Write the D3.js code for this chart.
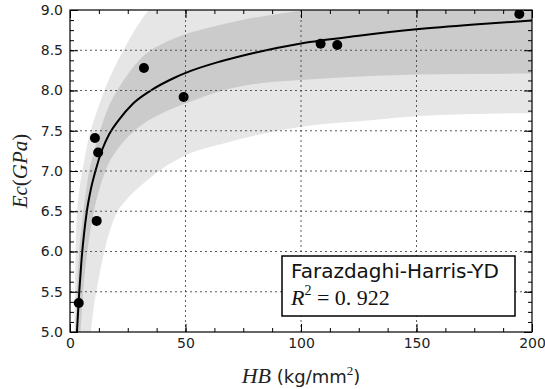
<!DOCTYPE html>
<html>
<head>
<meta charset="utf-8">
<script src="https://cdnjs.cloudflare.com/ajax/libs/d3/7.8.5/d3.min.js"></script>
<style>
  body { margin: 0; background: #fff; }
  text { font-family: 'DejaVu Sans', sans-serif; }
  .math { font-family: 'Liberation Serif', 'DejaVu Serif', serif; }
</style>
</head>
<body>
<div id="chart"></div>
<script>
// measured points
const hbPoints = [3.8, 10.8, 11.55, 12.2, 32.0, 49.2, 108.5, 115.7, 194.5];
const ecPoints = [5.36, 7.41, 6.38, 7.23, 8.28, 7.92, 8.58, 8.565, 8.95];

// fitted curve
const fitX = [3, 4, 5, 6, 7.2, 9, 11, 14, 17, 21, 27, 35, 45, 52, 65, 80, 100, 125, 150, 175, 200];
const fitY = [5.0, 5.5, 5.9, 6.2, 6.48, 6.77, 7.0, 7.27, 7.46, 7.63, 7.83, 8.0, 8.155, 8.24, 8.36, 8.47, 8.585, 8.68, 8.76, 8.82, 8.87];

// outer (light) band
const outerUpX = [1.9, 2.2, 2.6, 3, 4, 5, 6, 8, 10, 13, 16, 20, 25, 30, 35, 40, 50, 75, 100, 150, 200];
const outerUpY = [5.0, 5.6, 6.2, 6.45, 6.75, 6.95, 7.1, 7.4, 7.6, 7.85, 8.08, 8.33, 8.6, 8.84, 9.03, 9.18, 9.4, 9.7, 9.9, 10.1, 10.2];
const outerLoX = [1.9, 5, 7, 9, 10, 12, 15, 19, 25, 30, 39, 52, 66, 100, 130, 150, 200];
const outerLoY = [-2.0, 3.5, 4.5, 5.0, 5.25, 5.6, 6.02, 6.4, 6.66, 6.8, 7.01, 7.22, 7.34, 7.55, 7.63, 7.68, 7.72];

// inner (dark) band
const innerUpX = [2.3, 3, 4, 5, 6, 8, 10, 13, 16, 20, 25, 30, 35, 40, 50, 60, 75, 90, 100, 125, 150, 200];
const innerUpY = [5.0, 5.5, 6.0, 6.3, 6.55, 6.95, 7.2, 7.5, 7.75, 7.98, 8.2, 8.38, 8.5, 8.58, 8.7, 8.78, 8.88, 8.95, 8.99, 9.07, 9.12, 9.2];
const innerLoX = [2.3, 4, 5, 6, 8, 10, 13, 16, 20, 25, 30, 40, 52, 66, 80, 100, 130, 150, 200];
const innerLoY = [-1.0, 4.6, 5.2, 5.6, 6.1, 6.45, 6.8, 7.05, 7.25, 7.42, 7.55, 7.72, 7.86, 8.0, 8.08, 8.13, 8.18, 8.2, 8.21];

const xTicks = [0, 50, 100, 150, 200];
const yTicks = [5.0, 5.5, 6.0, 6.5, 7.0, 7.5, 8.0, 8.5, 9.0];

const width = 545, height = 389;
const m = { left: 70, right: 532, top: 10, bottom: 332 };

const svg = d3.select('#chart')
  .append('svg')
  .attr('width', width)
  .attr('height', height);

const x = d3.scaleLinear().domain([0, 200]).range([m.left, m.right]);
const y = d3.scaleLinear().domain([5, 9]).range([m.bottom, m.top]);

svg.append('defs').append('clipPath').attr('id', 'plot')
  .append('rect')
  .attr('x', m.left).attr('y', m.top)
  .attr('width', m.right - m.left).attr('height', m.bottom - m.top);

const plot = svg.append('g').attr('clip-path', 'url(#plot)');

// band polygon: upper edge left->right, lower edge right->left
function bandPath(upX, upY, loX, loY) {
  const lineGen = d3.line().x(d => x(d[0])).y(d => y(d[1])).curve(d3.curveMonotoneX);
  const up = upX.map((v, i) => [v, upY[i]]);
  const lo = loX.map((v, i) => [v, loY[i]]).reverse();
  const a = lineGen(up);
  const b = lineGen(lo);
  return a + 'L' + b.slice(1) + 'Z';
}

plot.append('path')
  .attr('d', bandPath(outerUpX, outerUpY, outerLoX, outerLoY))
  .attr('fill', '#e6e6e6');

plot.append('path')
  .attr('d', bandPath(innerUpX, innerUpY, innerLoX, innerLoY))
  .attr('fill', '#cbcbcb');

// grid
const grid = svg.append('g')
  .attr('stroke', '#333')
  .attr('stroke-width', 0.8)
  .attr('stroke-dasharray', '2,3');
grid.selectAll('.gx')
  .data(xTicks.slice(1, -1))
  .enter().append('line')
  .attr('x1', d => x(d)).attr('x2', d => x(d))
  .attr('y1', m.top).attr('y2', m.bottom);
grid.selectAll('.gy')
  .data(yTicks.slice(1, -1))
  .enter().append('line')
  .attr('x1', m.left).attr('x2', m.right)
  .attr('y1', d => y(d)).attr('y2', d => y(d));

// fitted curve
plot.append('path')
  .datum(fitX.map((v, i) => [v, fitY[i]]))
  .attr('fill', 'none')
  .attr('stroke', '#000')
  .attr('stroke-width', 2)
  .attr('d', d3.line().x(d => x(d[0])).y(d => y(d[1])).curve(d3.curveMonotoneX));

// points
plot.selectAll('.pt')
  .data(hbPoints.map((v, i) => [v, ecPoints[i]]))
  .enter().append('circle')
  .attr('cx', d => x(d[0]))
  .attr('cy', d => y(d[1]))
  .attr('r', 5)
  .attr('fill', '#000');

// axes, ticks inward
const xMinor = d3.range(0, 200.1, 12.5);
const yMinor = d3.range(5, 9.01, 0.125);

function styleAxis(g) {
  g.select('.domain').remove();
  g.selectAll('line').attr('stroke', '#000').attr('stroke-width', 1);
  g.selectAll('text').style('font-size', '14px').style('font-family', "'DejaVu Sans', sans-serif").attr('fill', '#222');
}

svg.append('g')
  .attr('transform', `translate(0,${m.bottom})`)
  .call(d3.axisBottom(x).tickValues(xTicks).tickSize(-8).tickPadding(6).tickFormat(d3.format('d')))
  .call(styleAxis);
svg.append('g')
  .attr('transform', `translate(0,${m.bottom})`)
  .call(d3.axisBottom(x).tickValues(xMinor).tickSize(-4).tickFormat(''))
  .call(styleAxis);
svg.append('g')
  .attr('transform', `translate(0,${m.top})`)
  .call(d3.axisTop(x).tickValues(xTicks).tickSize(-8).tickFormat(''))
  .call(styleAxis);
svg.append('g')
  .attr('transform', `translate(0,${m.top})`)
  .call(d3.axisTop(x).tickValues(xMinor).tickSize(-4).tickFormat(''))
  .call(styleAxis);

svg.append('g')
  .attr('transform', `translate(${m.left},0)`)
  .call(d3.axisLeft(y).tickValues(yTicks).tickSize(-8).tickPadding(7).tickFormat(d3.format('.1f')))
  .call(styleAxis);
svg.append('g')
  .attr('transform', `translate(${m.left},0)`)
  .call(d3.axisLeft(y).tickValues(yMinor).tickSize(-4).tickFormat(''))
  .call(styleAxis);
svg.append('g')
  .attr('transform', `translate(${m.right},0)`)
  .call(d3.axisRight(y).tickValues(yTicks).tickSize(-8).tickFormat(''))
  .call(styleAxis);
svg.append('g')
  .attr('transform', `translate(${m.right},0)`)
  .call(d3.axisRight(y).tickValues(yMinor).tickSize(-4).tickFormat(''))
  .call(styleAxis);

// frame
svg.append('rect')
  .attr('x', m.left).attr('y', m.top)
  .attr('width', m.right - m.left).attr('height', m.bottom - m.top)
  .attr('fill', 'none')
  .attr('stroke', '#000')
  .attr('stroke-width', 1.2);

// y label
const yl = svg.append('text')
  .attr('class', 'math')
  .attr('transform', `translate(27,${(m.top + m.bottom) / 2}) rotate(-90)`)
  .attr('text-anchor', 'middle')
  .style('font-size', '21px')
  .attr('fill', '#222');
yl.append('tspan').attr('font-style', 'italic').text('Ec');
yl.append('tspan').text('(');
yl.append('tspan').attr('font-style', 'italic').text('GPa');
yl.append('tspan').text(')');

// x label
const xl = svg.append('text')
  .attr('x', (m.left + m.right) / 2)
  .attr('y', 383)
  .attr('text-anchor', 'middle')
  .style('font-size', '18px')
  .attr('fill', '#222');
xl.append('tspan').attr('class', 'math').attr('font-style', 'italic').style('font-size', '22px').text('HB');
xl.append('tspan').text(' (kg/mm');
xl.append('tspan').attr('class', 'math').attr('dy', -8).style('font-size', '13px').text('2');
xl.append('tspan').attr('dy', 8).text(')');

// legend box
svg.append('rect')
  .attr('x', 282).attr('y', 256)
  .attr('width', 233).attr('height', 60)
  .attr('fill', '#fff')
  .attr('stroke', '#000')
  .attr('stroke-width', 1.5);
svg.append('text')
  .attr('x', 291).attr('y', 278)
  .style('font-size', '20px')
  .attr('fill', '#111')
  .text('Farazdaghi-Harris-YD');
const r2 = svg.append('text')
  .attr('class', 'math')
  .attr('x', 291).attr('y', 305)
  .style('font-size', '22px')
  .attr('fill', '#111');
r2.append('tspan').attr('font-style', 'italic').text('R');
r2.append('tspan').attr('dy', -10).style('font-size', '14px').text('2');
r2.append('tspan').attr('dy', 10).text(' = 0. 922');
</script>
</body>
</html>
